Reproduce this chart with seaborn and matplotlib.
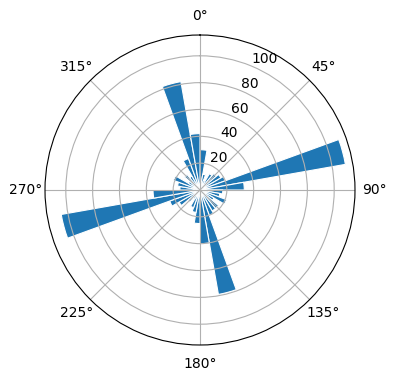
import numpy as np
import pandas as pd
import matplotlib
matplotlib.use("Agg")
import matplotlib.pyplot as plt
import seaborn as sns

# bin lower edges (degrees, clockwise from north) and counts per 10-degree bin
bin_start_deg = [0, 10, 20, 30, 40, 50, 60, 70, 80, 90, 100, 110,
                 120, 130, 140, 150, 160, 170, 180, 190, 200, 210, 220, 230,
                 240, 250, 260, 270, 280, 290, 300, 310, 320, 330, 340, 350]
counts = [30, 12, 8, 14, 16, 18, 20, 110, 33, 17, 15, 21,
          12, 18, 18, 20, 79, 40, 25, 17, 14, 8, 12, 18,
          24, 105, 35, 15, 17, 21, 10, 15, 12, 25, 82, 42]
bin_width_deg = 10

df = pd.DataFrame({
    "angle": np.deg2rad(np.array(bin_start_deg) + bin_width_deg / 2),
    "count": counts,
})

fig = plt.figure(figsize=(3.96, 3.8), dpi=100)
ax = fig.add_axes([45 / 396, 35 / 380, 310 / 396, 310 / 380], projection="polar")
ax.set_theta_zero_location("N")
ax.set_theta_direction(-1)

sns.histplot(data=df, x="angle", weights="count",
             binwidth=np.deg2rad(bin_width_deg), binrange=(0, 2 * np.pi),
             ax=ax, color="#1f77b4", alpha=1, edgecolor="white", linewidth=0.8)

ax.set_xlabel("")
ax.set_ylabel("")
ax.set_rlim(0, max(counts) * 1.05)
ax.set_yticks([20, 40, 60, 80, 100])
ax.grid(True)

fig.savefig("out.png", dpi=100)
